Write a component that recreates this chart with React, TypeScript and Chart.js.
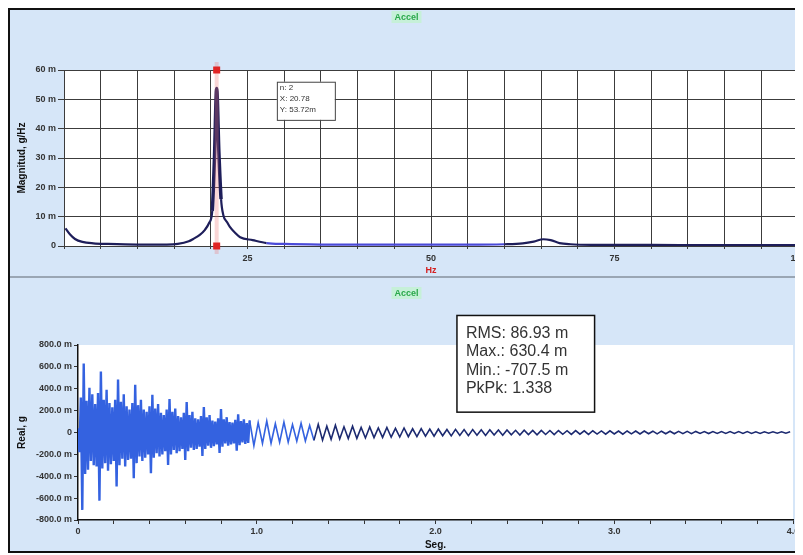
import React, { useEffect, useRef } from 'react';
import { Chart, registerables } from 'chart.js';
Chart.register(...registerables);

// ---------- Top panel: spectrum ----------
const specFreq = [0.2, 0.8, 1.5, 2.5, 4, 6, 10, 14, 15.5, 17, 17.6, 18.5, 19.2, 19.8, 20.2, 20.5, 20.8, 21.1, 21.4, 21.7, 22.2, 22.6, 23.3, 24, 25.7, 27.6, 30, 35, 45, 55, 60, 62.5, 64, 65.3, 66.3, 67.5, 69, 72, 80, 90, 100];
const specMag = [6.0, 4.0, 2.4, 1.4, 0.9, 0.7, 0.5, 0.5, 0.7, 1.6, 2.4, 3.8, 5.5, 8.0, 12, 30, 53.7, 32, 16, 10.6, 8.2, 6.5, 4.5, 3.0, 2.0, 1.0, 0.7, 0.5, 0.45, 0.45, 0.6, 0.9, 1.5, 2.3, 2.0, 1.0, 0.6, 0.4, 0.35, 0.3, 0.3];
const specXLabels = [25, 50, 75, 100];
const specYMin = 0;
const specYMax = 60;
const cursorFreq = 20.8;
const cursorLines = ['n: 2', 'X: 20.78', 'Y: 53.72m'];
const cursorBox = { x0: 29.0, x1: 36.9, y0: 56, y1: 43 };

// ---------- Bottom panel: time signal ----------
const earlyStep = 0.008; // s between samples, first 0.96 s
const earlyValues = [
  40, -180, 320, -707.5, 630.4, -380, 290, -340, 410, -260, 350, -300,
  260, -310, 360, -623, 558, -330, 300, -280, 390, -350, 270, -290,
  230, -260, 300, -493, 484, -300, 280, -240, 350, -310, 240, -250,
  210, -240, 270, -419, 437, -280, 250, -220, 300, -260, 210, -230,
  190, -200, 240, -372, 344, -230, 220, -190, 260, -220, 180, -200,
  160, -170, 210, -298, 307, -200, 190, -160, 220, -190, 150, -170,
  140, -150, 180, -251, 279, -170, 160, -140, 190, -160, 130, -150,
  120, -130, 150, -214, 233, -150, 140, -120, 160, -140, 110, -125,
  100, -110, 130, -186, 214, -130, 120, -100, 140, -120, 95, -110,
  90, -100, 115, -167, 167, -115, 105, -90, 120, -105, 85, -95,
];
const lateStart = 0.96;
const lateStep = 0.024;
const lateValues = [
  110, -120, 90, -100, 105, -98, 80, -90, 95, -88,
  72, -80, 85, -78, 64, -72, 74, -70, 58, -62,
  66, -60, 52, -56, 58, -54, 46, -50, 50, -47,
  42, -45, 46, -43, 38, -41, 41, -38, 34, -37,
  36, -33, 31, -34, 32, -30, 28, -31, 29, -27,
  27, -29, 27, -25, 24, -27, 25, -23, 22, -25,
  23, -21, 20, -23, 21, -19, 19, -21, 19, -18,
  18, -19, 18, -16, 16, -18, 17, -15, 15, -17,
  16, -14, 14, -16, 15, -13, 13, -15, 14, -12,
  13, -14, 13, -11, 12, -13, 12, -11, 11, -12,
  11, -10, 10, -11, 10, -9, 9, -10, 9, -9,
  9, -8, 8, -9, 8, -8, 8, -8, 7, -8,
  7, -7, 7, -6, 6, -7, 6,
];
const timeXLabels = [0, 1, 2, 3, 4];
const timeYMin = -800;
const timeYMax = 800;
const statsLines = ['RMS: 86.93 m', 'Max.: 630.4 m', 'Min.: -707.5 m', 'PkPk: 1.338'];
const statsBox = { x0: 2.12, x1: 2.89, y0: 1070, y1: 186 };

const BG = '#d6e6f8';
const TICK_FONT = { family: '"Liberation Sans", Arial, sans-serif', size: 9, weight: 'bold' as const };

const plotBg = {
  id: 'plotBg',
  beforeDraw(chart: any) {
    const { ctx, chartArea: a } = chart;
    ctx.save();
    ctx.fillStyle = '#ffffff';
    ctx.fillRect(a.left, a.top, a.right - a.left, a.bottom - a.top);
    ctx.restore();
  },
};

const panelTitle = {
  id: 'panelTitle',
  afterDraw(chart: any, _args: any, opts: any) {
    const { ctx } = chart;
    ctx.save();
    ctx.font = 'bold 9px "Liberation Sans", Arial, sans-serif';
    const w = ctx.measureText(opts.text).width;
    const cx = chart.width / 2;
    ctx.fillStyle = '#c6f0d8';
    ctx.fillRect(cx - w / 2 - 3, opts.y - 1, w + 6, 12);
    ctx.fillStyle = '#2aa84a';
    ctx.textAlign = 'center';
    ctx.textBaseline = 'top';
    ctx.fillText(opts.text, cx, opts.y + 1);
    ctx.restore();
  },
};

const cursorPlugin = {
  id: 'cursorBox',
  afterDraw(chart: any) {
    const { ctx, scales } = chart;
    const x0 = scales.x.getPixelForValue(cursorBox.x0);
    const x1 = scales.x.getPixelForValue(cursorBox.x1);
    const y0 = scales.y.getPixelForValue(cursorBox.y0);
    const y1 = scales.y.getPixelForValue(cursorBox.y1);
    ctx.save();
    ctx.fillStyle = '#ffffff';
    ctx.fillRect(x0, y0, x1 - x0, y1 - y0);
    ctx.strokeStyle = '#444';
    ctx.lineWidth = 1;
    ctx.strokeRect(x0 + 0.5, y0 + 0.5, x1 - x0, y1 - y0);
    ctx.fillStyle = '#333';
    ctx.font = '8px "Liberation Sans", Arial, sans-serif';
    ctx.textBaseline = 'top';
    cursorLines.forEach((t, i) => ctx.fillText(t, x0 + 3, y0 + 2 + i * 11));
    const cx = scales.x.getPixelForValue(cursorFreq);
    ctx.strokeStyle = 'rgba(240,120,120,0.3)';
    ctx.lineWidth = 4;
    ctx.beginPath();
    ctx.moveTo(cx, chart.chartArea.top - 8);
    ctx.lineTo(cx, chart.chartArea.bottom + 8);
    ctx.stroke();
    ctx.fillStyle = '#e02424';
    ctx.fillRect(cx - 3.5, chart.chartArea.top - 3.5, 7, 7);
    ctx.fillRect(cx - 3.5, chart.chartArea.bottom - 3.5, 7, 7);
    ctx.restore();
  },
};

const statsPlugin = {
  id: 'statsBox',
  afterDraw(chart: any) {
    const { ctx, scales } = chart;
    const x0 = scales.x.getPixelForValue(statsBox.x0);
    const x1 = scales.x.getPixelForValue(statsBox.x1);
    const y0 = scales.y.getPixelForValue(statsBox.y0);
    const y1 = scales.y.getPixelForValue(statsBox.y1);
    ctx.save();
    ctx.fillStyle = '#ffffff';
    ctx.fillRect(x0, y0, x1 - x0, y1 - y0);
    ctx.strokeStyle = '#111';
    ctx.lineWidth = 1.5;
    ctx.strokeRect(x0, y0, x1 - x0, y1 - y0);
    ctx.fillStyle = '#333';
    ctx.font = '16px "Liberation Sans", Arial, sans-serif';
    ctx.textBaseline = 'middle';
    statsLines.forEach((t, i) => ctx.fillText(t, x0 + 9, y0 + 18 + i * 18.5));
    ctx.restore();
  },
};

function TopChart() {
  const ref = useRef<HTMLCanvasElement>(null);
  useEffect(() => {
    const chart = new Chart(ref.current!, {
      type: 'line',
      data: {
        datasets: [
          {
            data: specFreq.map((f, i) => ({ x: f, y: specMag[i] })),
            borderColor: '#1e1e5a',
            borderWidth: 2.2,
            pointRadius: 0,
            cubicInterpolationMode: 'monotone',
            segment: {
              borderColor: (c: any) => (c.p0.parsed.x >= 27 && c.p1.parsed.x <= 60 ? '#4a4ad8' : '#1e1e5a'),
              borderWidth: (c: any) => (c.p0.parsed.x >= 20.2 && c.p1.parsed.x <= 21.4 ? 3.5 : 2.2),
            },
          },
        ],
      },
      options: {
        animation: false,
        responsive: true,
        maintainAspectRatio: false,
        layout: { padding: { left: 6, right: 5, top: 60, bottom: 0 } },
        plugins: {
          legend: { display: false },
          tooltip: { enabled: false },
          panelTitle: { text: 'Accel', y: 2 },
        } as any,
        scales: {
          x: {
            type: 'linear',
            min: 0,
            max: 100,
            ticks: {
              stepSize: 5,
              autoSkip: false,
              maxRotation: 0,
              color: '#333',
              font: TICK_FONT,
              padding: 4,
              callback: (v: any) => (specXLabels.includes(Number(v)) ? String(v) : ''),
            },
            grid: { color: '#3c3c3c', lineWidth: 1, tickLength: 3 },
            border: { display: false },
            title: { display: true, text: 'Hz', color: '#d42020', font: { ...TICK_FONT, size: 9 }, padding: 0 },
            afterFit: (s: any) => { s.height = 30; s.paddingRight = 0; s.paddingLeft = 0; },
          },
          y: {
            min: specYMin,
            max: specYMax,
            ticks: {
              stepSize: 10,
              color: '#333',
              font: TICK_FONT,
              padding: 2,
              callback: (v: any) => (Number(v) === 0 ? '0' : `${v} m`),
            },
            grid: { color: '#3c3c3c', lineWidth: 1, tickLength: 6 },
            border: { display: false },
            title: { display: true, text: 'Magnitud, g/Hz', color: '#111', font: { ...TICK_FONT, size: 10 }, padding: 0 },
            afterFit: (s: any) => { s.width = 48; s.paddingTop = 0; s.paddingBottom = 0; },
          },
        },
      },
      plugins: [plotBg, panelTitle, cursorPlugin],
    });
    return () => chart.destroy();
  }, []);
  return (
    <div style={{ position: 'relative', width: 793, height: 266 }}>
      <canvas ref={ref} />
    </div>
  );
}

function BottomChart() {
  const ref = useRef<HTMLCanvasElement>(null);
  useEffect(() => {
    const pts = [
      ...earlyValues.map((v, i) => ({ x: i * earlyStep, y: v })),
      ...lateValues.map((v, i) => ({ x: lateStart + i * lateStep, y: v })),
    ];
    const chart = new Chart(ref.current!, {
      type: 'line',
      data: {
        datasets: [
          {
            data: pts,
            borderColor: '#3462e0',
            borderWidth: 1.5,
            pointRadius: 0,
            segment: {
              borderColor: (c: any) => (c.p0.parsed.x > 1.3 ? '#1c2a70' : '#3462e0'),
              borderWidth: (c: any) => (c.p0.parsed.x < 0.96 ? 2.4 : 1.6),
            },
          },
        ],
      },
      options: {
        animation: false,
        responsive: true,
        maintainAspectRatio: false,
        layout: { padding: { left: 6, right: 10, top: 67, bottom: 0 } },
        plugins: {
          legend: { display: false },
          tooltip: { enabled: false },
          panelTitle: { text: 'Accel', y: 10 },
        } as any,
        scales: {
          x: {
            type: 'linear',
            min: 0,
            max: 4,
            ticks: {
              stepSize: 0.2,
              autoSkip: false,
              maxRotation: 0,
              color: '#333',
              font: TICK_FONT,
              padding: 2,
              callback: (v: any) => {
                const n = Number(v);
                const r = Math.round(n);
                if (Math.abs(n - r) > 1e-6 || !timeXLabels.includes(r)) return '';
                return r === 0 ? '0' : r.toFixed(1);
              },
            },
            grid: { drawOnChartArea: false, color: '#333', tickLength: 4 },
            border: { display: true, color: '#111', width: 1.5 },
            title: { display: true, text: 'Seg.', color: '#111', font: { ...TICK_FONT, size: 10 }, padding: 0 },
            afterFit: (s: any) => { s.height = 31; s.paddingRight = 0; s.paddingLeft = 0; },
          },
          y: {
            min: timeYMin,
            max: timeYMax,
            ticks: {
              stepSize: 200,
              color: '#333',
              font: TICK_FONT,
              padding: 2,
              callback: (v: any) => (Number(v) === 0 ? '0' : `${Number(v).toFixed(1)} m`),
            },
            grid: { drawOnChartArea: false, color: '#333', tickLength: 4 },
            border: { display: true, color: '#111', width: 1.5 },
            title: { display: true, text: 'Real, g', color: '#111', font: { ...TICK_FONT, size: 10 }, padding: 0 },
            afterFit: (s: any) => { s.width = 62; s.paddingTop = 0; s.paddingBottom = 0; },
          },
        },
      },
      plugins: [plotBg, panelTitle, statsPlugin],
    });
    return () => chart.destroy();
  }, []);
  return (
    <div style={{ position: 'relative', width: 793, height: 273 }}>
      <canvas ref={ref} />
    </div>
  );
}

export default function App() {
  return (
    <div
      style={{
        width: 795,
        height: 545,
        boxSizing: 'border-box',
        border: '2px solid #111',
        borderRight: 'none',
        background: BG,
        overflow: 'hidden',
      }}
    >
      <TopChart />
      <div style={{ height: 2, background: '#9aa6b4' }} />
      <BottomChart />
    </div>
  );
}
